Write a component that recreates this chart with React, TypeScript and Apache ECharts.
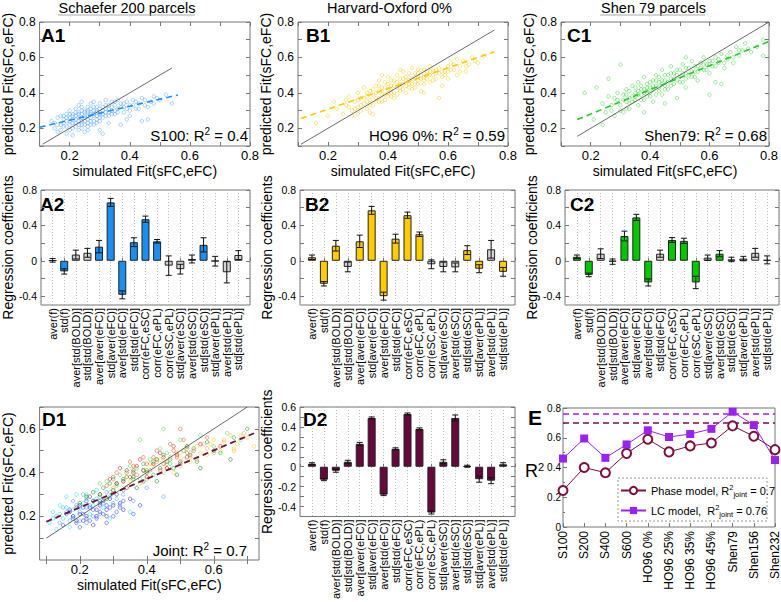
import React, { useEffect, useRef } from "react";
import * as echarts from "echarts";

const FONT = "'Liberation Sans', Arial, Helvetica, sans-serif";

// ---------- regression-coefficient panels ----------
const features = [
  "aver(f)", "std(f)", "aver[std(BOLD)]", "std[std(BOLD)]", "aver[aver(eFC)]", "std[aver(eFC)]",
  "aver[std(eFC)]", "std[std(eFC)]", "corr(eFC,eSC)", "corr(eFC,ePL)", "corr(eSC,ePL)",
  "std[aver(eSC)]", "aver[std(eSC)]", "std[std(eSC)]", "std[aver(ePL)]", "aver[std(ePL)]", "std[std(ePL)]",
];

const coefA2 = [0.005, -0.12, 0.07, 0.09, 0.16, 0.66, -0.385, 0.21, 0.47, 0.22, -0.055, -0.095, 0.02, 0.18, -0.005, -0.13, 0.065];
const errA2 = [0.02, 0.03, 0.05, 0.05, 0.07, 0.045, 0.045, 0.05, 0.035, 0.02, 0.11, 0.055, 0.045, 0.08, 0.055, 0.12, 0.05];
const sigA2 = [0, 1, 0, 0, 1, 1, 1, 1, 1, 1, 0, 0, 0, 1, 0, 0, 0];

const coefB2 = [0.04, -0.26, 0.17, -0.07, 0.22, 0.57, -0.40, 0.25, 0.515, 0.30, -0.04, -0.07, -0.075, 0.12, -0.09, 0.13, -0.125];
const errB2 = [0.025, 0.025, 0.06, 0.055, 0.07, 0.045, 0.045, 0.05, 0.035, 0.025, 0.05, 0.055, 0.05, 0.05, 0.045, 0.1, 0.05];
const sigB2 = [1, 1, 1, 0, 1, 1, 1, 1, 1, 1, 0, 0, 0, 1, 1, 0, 1];

const coefC2 = [0.045, -0.16, 0.08, -0.01, 0.28, 0.49, -0.245, 0.08, 0.235, 0.225, -0.245, 0.035, 0.08, 0.015, 0.025, 0.09, 0.01];
const errC2 = [0.02, 0.02, 0.055, 0.03, 0.055, 0.035, 0.04, 0.04, 0.027, 0.03, 0.07, 0.03, 0.035, 0.025, 0.025, 0.05, 0.045];
const sigC2 = [1, 1, 0, 0, 1, 1, 1, 0, 1, 1, 1, 0, 1, 0, 0, 0, 0];

const coefD2 = [0.03, -0.13, -0.04, 0.05, 0.23, 0.49, -0.28, 0.18, 0.53, 0.38, -0.46, 0.05, 0.49, 0.005, -0.125, -0.14, 0.025];
const errD2 = [0.01, 0.01, 0.015, 0.015, 0.015, 0.01, 0.01, 0.01, 0.01, 0.01, 0.015, 0.02, 0.03, 0.01, 0.03, 0.03, 0.015];
const sigD2 = [1, 1, 1, 1, 1, 1, 1, 1, 1, 1, 1, 1, 1, 1, 1, 1, 0];

const coefLabelsRow2 = [-0.4, 0, 0.4, 0.8];
const coefTicksRow2 = [-0.4, -0.2, 0, 0.2, 0.4, 0.6, 0.8];
const coefLabelsD2 = [-0.4, -0.2, 0, 0.2, 0.4, 0.6];
const coefTicksD2 = [-0.4, -0.3, -0.2, -0.1, 0, 0.1, 0.2, 0.3, 0.4, 0.5, 0.6];

// ---------- summary panel E ----------
const parcellations = ["S100", "S200", "S400", "S600", "HO96 0%", "HO96 25%", "HO96 35%", "HO96 45%", "Shen79", "Shen156", "Shen232"];
const r2Phase = [0.245, 0.40, 0.365, 0.495, 0.59, 0.505, 0.545, 0.565, 0.68, 0.61, 0.52];
const r2LC = [0.46, 0.595, 0.465, 0.555, 0.65, 0.605, 0.625, 0.66, 0.775, 0.685, 0.45];
const r2JointPhase = 0.7;
const r2JointLC = 0.76;

// ---------- scatter panels ----------
const fitLabels = [0.2, 0.4, 0.6, 0.8];
const fitTicks = [0.1, 0.2, 0.3, 0.4, 0.5, 0.6, 0.7, 0.8];
const fitLabelsD1 = [0.2, 0.4, 0.6];
const fitTicksD1 = [0.1, 0.2, 0.3, 0.4, 0.5, 0.6, 0.7];

const scatterA1 = [
  [0.14, 0.24], [0.15, 0.20], [0.16, 0.26], [0.16, 0.22], [0.17, 0.19], [0.17, 0.27], [0.18, 0.23], [0.18, 0.25], [0.18, 0.21],
  [0.19, 0.28], [0.19, 0.24], [0.19, 0.17], [0.20, 0.22], [0.20, 0.26], [0.20, 0.30], [0.20, 0.19], [0.21, 0.25], [0.21, 0.28],
  [0.21, 0.23], [0.21, 0.16], [0.22, 0.27], [0.22, 0.31], [0.22, 0.21], [0.22, 0.25], [0.23, 0.29], [0.23, 0.24], [0.23, 0.19],
  [0.23, 0.33], [0.24, 0.26], [0.24, 0.28], [0.24, 0.22], [0.24, 0.35], [0.25, 0.27], [0.25, 0.30], [0.25, 0.24], [0.25, 0.18],
  [0.26, 0.29], [0.26, 0.25], [0.26, 0.32], [0.26, 0.21], [0.27, 0.28], [0.27, 0.31], [0.27, 0.24], [0.27, 0.34], [0.28, 0.27],
  [0.28, 0.30], [0.28, 0.22], [0.29, 0.29], [0.29, 0.32], [0.29, 0.25], [0.30, 0.28], [0.30, 0.34], [0.30, 0.31], [0.30, 0.19],
  [0.31, 0.30], [0.31, 0.26], [0.32, 0.33], [0.32, 0.29], [0.32, 0.36], [0.33, 0.31], [0.33, 0.27], [0.34, 0.35], [0.34, 0.30],
  [0.35, 0.33], [0.35, 0.28], [0.36, 0.31], [0.36, 0.36], [0.37, 0.34], [0.37, 0.22], [0.38, 0.32], [0.38, 0.29], [0.39, 0.35],
  [0.40, 0.33], [0.40, 0.27], [0.41, 0.36], [0.42, 0.31], [0.43, 0.34], [0.44, 0.37], [0.45, 0.33], [0.46, 0.25], [0.47, 0.35],
  [0.48, 0.38], [0.50, 0.36], [0.52, 0.39], [0.54, 0.34], [0.44, 0.24], [0.31, 0.17], [0.28, 0.35], [0.33, 0.23], [0.39, 0.25],
  [0.19, 0.21], [0.20, 0.24], [0.21, 0.20], [0.21, 0.27], [0.22, 0.23], [0.22, 0.29], [0.23, 0.22], [0.23, 0.26], [0.23, 0.28],
  [0.24, 0.20], [0.24, 0.24], [0.24, 0.30], [0.25, 0.22], [0.25, 0.26], [0.25, 0.29], [0.26, 0.23], [0.26, 0.27], [0.26, 0.30],
  [0.27, 0.22], [0.27, 0.26], [0.27, 0.29], [0.28, 0.24], [0.28, 0.28], [0.28, 0.32], [0.29, 0.23], [0.29, 0.27], [0.29, 0.30],
  [0.30, 0.24], [0.30, 0.26], [0.30, 0.29], [0.31, 0.28], [0.31, 0.32], [0.32, 0.27], [0.32, 0.31], [0.33, 0.29], [0.33, 0.33],
  [0.34, 0.28], [0.34, 0.32], [0.35, 0.30], [0.35, 0.35], [0.36, 0.29], [0.37, 0.32], [0.38, 0.34], [0.39, 0.31], [0.40, 0.30],
  [0.41, 0.33], [0.42, 0.35], [0.43, 0.31], [0.45, 0.36], [0.46, 0.32], [0.48, 0.34], [0.49, 0.37], [0.17, 0.22], [0.18, 0.27],
  [0.16, 0.18], [0.15, 0.23], [0.20, 0.28], [0.19, 0.26], [0.26, 0.19], [0.24, 0.32],
];
const fitLineA1 = [[0.1, 0.206], [0.56, 0.388]];
const identityA1 = [[0.11, 0.11], [0.54, 0.54]];

const scatterB1 = [
  [0.16, 0.23], [0.20, 0.27], [0.22, 0.35], [0.23, 0.31], [0.25, 0.28], [0.26, 0.33], [0.27, 0.38], [0.28, 0.30], [0.28, 0.27],
  [0.29, 0.35], [0.30, 0.32], [0.30, 0.40], [0.30, 0.28], [0.31, 0.37], [0.31, 0.30], [0.32, 0.34], [0.32, 0.43], [0.33, 0.38],
  [0.33, 0.31], [0.34, 0.36], [0.34, 0.41], [0.34, 0.29], [0.35, 0.39], [0.35, 0.33], [0.36, 0.44], [0.36, 0.37], [0.37, 0.41],
  [0.37, 0.35], [0.37, 0.47], [0.38, 0.39], [0.38, 0.43], [0.39, 0.36], [0.39, 0.46], [0.40, 0.42], [0.40, 0.38], [0.40, 0.49],
  [0.41, 0.44], [0.41, 0.40], [0.42, 0.47], [0.42, 0.37], [0.43, 0.43], [0.43, 0.50], [0.44, 0.45], [0.44, 0.41], [0.45, 0.48],
  [0.45, 0.52], [0.46, 0.44], [0.46, 0.40], [0.47, 0.47], [0.47, 0.51], [0.48, 0.45], [0.48, 0.54], [0.49, 0.49], [0.49, 0.43],
  [0.50, 0.51], [0.50, 0.47], [0.51, 0.53], [0.51, 0.41], [0.52, 0.49], [0.52, 0.45], [0.53, 0.52], [0.54, 0.50], [0.54, 0.55],
  [0.55, 0.47], [0.55, 0.53], [0.56, 0.51], [0.57, 0.54], [0.57, 0.37], [0.58, 0.49], [0.59, 0.52], [0.60, 0.55], [0.60, 0.48],
  [0.61, 0.57], [0.62, 0.53], [0.63, 0.50], [0.63, 0.59], [0.64, 0.55], [0.65, 0.58], [0.66, 0.52], [0.67, 0.56], [0.68, 0.60],
  [0.70, 0.57], [0.72, 0.61], [0.44, 0.53], [0.38, 0.50], [0.26, 0.36], [0.52, 0.40], [0.35, 0.28], [0.58, 0.44],
  [0.33, 0.40], [0.34, 0.33], [0.35, 0.42], [0.36, 0.35], [0.36, 0.40], [0.37, 0.37], [0.37, 0.44], [0.38, 0.41], [0.38, 0.35],
  [0.39, 0.39], [0.39, 0.43], [0.40, 0.40], [0.40, 0.45], [0.41, 0.38], [0.41, 0.42], [0.41, 0.47], [0.42, 0.40], [0.42, 0.44],
  [0.43, 0.46], [0.43, 0.39], [0.44, 0.43], [0.44, 0.48], [0.45, 0.42], [0.45, 0.45], [0.46, 0.47], [0.46, 0.49], [0.47, 0.43],
  [0.47, 0.45], [0.48, 0.48], [0.48, 0.42], [0.49, 0.46], [0.49, 0.51], [0.50, 0.45], [0.50, 0.53], [0.51, 0.48], [0.51, 0.50],
  [0.52, 0.47], [0.52, 0.53], [0.53, 0.48], [0.53, 0.50], [0.54, 0.46], [0.54, 0.52], [0.55, 0.50], [0.56, 0.48], [0.56, 0.53],
  [0.57, 0.51], [0.58, 0.52], [0.59, 0.50], [0.60, 0.52], [0.61, 0.53], [0.62, 0.56], [0.32, 0.37], [0.31, 0.33], [0.29, 0.31],
  [0.33, 0.35], [0.30, 0.36], [0.27, 0.32], [0.64, 0.52], [0.66, 0.55], [0.69, 0.58],
];
const fitLineB1 = [[0.11, 0.255], [0.755, 0.632]];
const identityB1 = [[0.11, 0.11], [0.755, 0.755]];

const scatterC1 = [
  [0.18, 0.40], [0.21, 0.25], [0.22, 0.43], [0.24, 0.22], [0.24, 0.34], [0.26, 0.48], [0.27, 0.30], [0.28, 0.37], [0.28, 0.27],
  [0.29, 0.40], [0.30, 0.33], [0.30, 0.56], [0.31, 0.36], [0.31, 0.29], [0.32, 0.39], [0.32, 0.42], [0.33, 0.34], [0.33, 0.31],
  [0.34, 0.38], [0.34, 0.44], [0.35, 0.36], [0.35, 0.40], [0.36, 0.33], [0.36, 0.46], [0.37, 0.39], [0.37, 0.42], [0.38, 0.36],
  [0.38, 0.49], [0.39, 0.41], [0.39, 0.45], [0.40, 0.38], [0.40, 0.43], [0.41, 0.47], [0.41, 0.35], [0.42, 0.44], [0.42, 0.50],
  [0.43, 0.41], [0.43, 0.46], [0.44, 0.53], [0.44, 0.39], [0.45, 0.47], [0.45, 0.44], [0.46, 0.50], [0.46, 0.42], [0.47, 0.48],
  [0.47, 0.55], [0.48, 0.45], [0.48, 0.51], [0.49, 0.47], [0.49, 0.37], [0.50, 0.53], [0.50, 0.49], [0.51, 0.46], [0.51, 0.56],
  [0.52, 0.51], [0.52, 0.43], [0.53, 0.54], [0.54, 0.49], [0.54, 0.58], [0.55, 0.52], [0.56, 0.55], [0.56, 0.47], [0.57, 0.57],
  [0.58, 0.53], [0.58, 0.60], [0.59, 0.56], [0.60, 0.51], [0.60, 0.58], [0.61, 0.55], [0.62, 0.60], [0.62, 0.46], [0.63, 0.57],
  [0.64, 0.62], [0.65, 0.54], [0.66, 0.59], [0.67, 0.63], [0.68, 0.57], [0.69, 0.66], [0.70, 0.61], [0.71, 0.64], [0.72, 0.68],
  [0.74, 0.63], [0.76, 0.66], [0.78, 0.70], [0.78, 0.61], [0.60, 0.39], [0.64, 0.45], [0.38, 0.29], [0.45, 0.34], [0.52, 0.60],
  [0.31, 0.39], [0.32, 0.35], [0.33, 0.37], [0.33, 0.41], [0.34, 0.35], [0.35, 0.38], [0.35, 0.43], [0.36, 0.39], [0.36, 0.41],
  [0.37, 0.36], [0.37, 0.44], [0.38, 0.40], [0.38, 0.42], [0.39, 0.38], [0.39, 0.43], [0.40, 0.40], [0.40, 0.46], [0.41, 0.42],
  [0.41, 0.44], [0.42, 0.39], [0.42, 0.47], [0.43, 0.43], [0.43, 0.49], [0.44, 0.45], [0.44, 0.47], [0.45, 0.42], [0.45, 0.50],
  [0.46, 0.46], [0.47, 0.44], [0.47, 0.51], [0.48, 0.48], [0.49, 0.50], [0.49, 0.53], [0.50, 0.46], [0.51, 0.51], [0.52, 0.48],
  [0.52, 0.54], [0.53, 0.50], [0.54, 0.52], [0.55, 0.55], [0.55, 0.49], [0.56, 0.52], [0.57, 0.54], [0.58, 0.56], [0.59, 0.53],
  [0.60, 0.56], [0.61, 0.58], [0.62, 0.55], [0.63, 0.59], [0.65, 0.57], [0.66, 0.61], [0.68, 0.60], [0.29, 0.36], [0.27, 0.33],
  [0.26, 0.38], [0.25, 0.29], [0.30, 0.30], [0.32, 0.31], [0.70, 0.64], [0.73, 0.65],
];
const fitLineC1 = [[0.155, 0.25], [0.8, 0.69]];
const identityC1 = [[0.155, 0.155], [0.8, 0.8]];

const jointS100 = [[0.11, 0.17], [0.12, 0.22], [0.13, 0.14], [0.14, 0.25], [0.15, 0.19], [0.16, 0.29], [0.17, 0.15], [0.18, 0.23], [0.19, 0.30], [0.20, 0.18], [0.21, 0.26], [0.23, 0.21], [0.25, 0.32], [0.27, 0.24], [0.29, 0.19], [0.31, 0.28], [0.35, 0.22], [0.12, 0.19], [0.14, 0.21], [0.16, 0.24], [0.18, 0.20], [0.20, 0.24], [0.22, 0.28], [0.24, 0.25], [0.26, 0.29]];
const jointS200 = [[0.13, 0.20], [0.15, 0.24], [0.17, 0.18], [0.18, 0.27], [0.20, 0.22], [0.21, 0.30], [0.22, 0.17], [0.23, 0.25], [0.25, 0.28], [0.26, 0.21], [0.28, 0.31], [0.30, 0.26], [0.33, 0.30], [0.36, 0.27], [0.40, 0.33], [0.45, 0.29], [0.14, 0.17], [0.16, 0.22], [0.19, 0.25], [0.22, 0.24], [0.24, 0.20], [0.27, 0.26], [0.29, 0.29], [0.32, 0.25]];
const jointS400 = [[0.15, 0.16], [0.16, 0.21], [0.18, 0.19], [0.19, 0.24], [0.20, 0.15], [0.21, 0.21], [0.22, 0.27], [0.23, 0.18], [0.24, 0.23], [0.25, 0.19], [0.26, 0.26], [0.27, 0.21], [0.28, 0.17], [0.29, 0.24], [0.31, 0.22], [0.33, 0.27], [0.36, 0.21], [0.17, 0.23], [0.19, 0.17], [0.21, 0.24], [0.22, 0.19], [0.24, 0.27], [0.26, 0.22], [0.28, 0.25], [0.30, 0.20], [0.32, 0.24]];
const jointS600 = [[0.17, 0.22], [0.19, 0.18], [0.20, 0.25], [0.22, 0.20], [0.23, 0.29], [0.24, 0.16], [0.25, 0.23], [0.27, 0.27], [0.28, 0.20], [0.30, 0.25], [0.31, 0.30], [0.33, 0.23], [0.35, 0.28], [0.38, 0.25], [0.18, 0.20], [0.20, 0.21], [0.21, 0.18], [0.23, 0.24], [0.25, 0.20], [0.26, 0.25], [0.28, 0.23], [0.29, 0.28], [0.32, 0.26]];
const jointHO0 = [[0.35, 0.36], [0.40, 0.41], [0.44, 0.46], [0.48, 0.40], [0.50, 0.49], [0.53, 0.45], [0.55, 0.52], [0.58, 0.48], [0.60, 0.55], [0.62, 0.50], [0.65, 0.57], [0.67, 0.53], [0.70, 0.56], [0.72, 0.52], [0.42, 0.43], [0.46, 0.42], [0.51, 0.46], [0.56, 0.49], [0.59, 0.53], [0.63, 0.54], [0.66, 0.51], [0.68, 0.57]];
const jointHO25 = [[0.30, 0.33], [0.34, 0.38], [0.38, 0.35], [0.41, 0.44], [0.45, 0.40], [0.47, 0.47], [0.50, 0.43], [0.52, 0.51], [0.55, 0.46], [0.57, 0.53], [0.60, 0.49], [0.63, 0.55], [0.66, 0.50], [0.69, 0.58], [0.36, 0.40], [0.40, 0.37], [0.43, 0.45], [0.46, 0.44], [0.49, 0.49], [0.53, 0.47], [0.58, 0.51], [0.62, 0.52]];
const jointHO35 = [[0.28, 0.34], [0.31, 0.40], [0.33, 0.36], [0.35, 0.45], [0.37, 0.39], [0.39, 0.47], [0.41, 0.41], [0.43, 0.50], [0.45, 0.44], [0.47, 0.53], [0.49, 0.47], [0.51, 0.55], [0.54, 0.50], [0.58, 0.56], [0.62, 0.52], [0.30, 0.37], [0.34, 0.40], [0.36, 0.43], [0.40, 0.44], [0.42, 0.47], [0.44, 0.41], [0.48, 0.50], [0.52, 0.49], [0.50, 0.60]];
const jointHO45 = [[0.26, 0.30], [0.29, 0.37], [0.32, 0.42], [0.34, 0.33], [0.36, 0.41], [0.38, 0.46], [0.40, 0.38], [0.42, 0.44], [0.44, 0.49], [0.46, 0.42], [0.48, 0.52], [0.50, 0.45], [0.53, 0.48], [0.56, 0.53], [0.31, 0.35], [0.35, 0.38], [0.37, 0.43], [0.39, 0.41], [0.43, 0.46], [0.45, 0.47], [0.49, 0.48], [0.52, 0.52]];
const jointShen79 = [[0.22, 0.30], [0.26, 0.35], [0.29, 0.31], [0.32, 0.39], [0.35, 0.43], [0.38, 0.37], [0.41, 0.46], [0.44, 0.51], [0.47, 0.44], [0.50, 0.55], [0.53, 0.49], [0.56, 0.57], [0.60, 0.52], [0.64, 0.58], [0.68, 0.55], [0.28, 0.36], [0.31, 0.34], [0.34, 0.38], [0.37, 0.42], [0.40, 0.41], [0.43, 0.46], [0.46, 0.49], [0.52, 0.52], [0.45, 0.60], [0.38, 0.55]];
const jointShen156 = [[0.24, 0.27], [0.27, 0.33], [0.30, 0.38], [0.33, 0.32], [0.36, 0.40], [0.39, 0.44], [0.42, 0.39], [0.45, 0.48], [0.48, 0.42], [0.51, 0.50], [0.55, 0.45], [0.58, 0.54], [0.62, 0.49], [0.66, 0.56], [0.70, 0.60], [0.26, 0.30], [0.29, 0.35], [0.33, 0.36], [0.36, 0.37], [0.39, 0.41], [0.42, 0.45], [0.47, 0.46], [0.54, 0.51]];
const jointShen232 = [[0.20, 0.26], [0.24, 0.31], [0.28, 0.28], [0.31, 0.35], [0.34, 0.41], [0.37, 0.33], [0.40, 0.40], [0.43, 0.36], [0.46, 0.45], [0.49, 0.39], [0.52, 0.47], [0.56, 0.42], [0.60, 0.50], [0.65, 0.46], [0.22, 0.29], [0.26, 0.27], [0.30, 0.32], [0.33, 0.37], [0.36, 0.38], [0.39, 0.36], [0.44, 0.42], [0.50, 0.44]];
const fitLineD1 = [[0.1, 0.175], [0.72, 0.58]];
const identityD1 = [[0.1, 0.1], [0.7, 0.7]];

const jointGroups = [
  { name: "S100", data: jointS100, color: "rgba(0,220,240,0.75)" },
  { name: "S200", data: jointS200, color: "rgba(40,140,255,0.75)" },
  { name: "S400", data: jointS400, color: "rgba(0,40,255,0.75)" },
  { name: "S600", data: jointS600, color: "rgba(0,0,170,0.75)" },
  { name: "HO96 0%", data: jointHO0, color: "rgba(255,200,0,0.8)" },
  { name: "HO96 25%", data: jointHO25, color: "rgba(255,150,40,0.8)" },
  { name: "HO96 35%", data: jointHO35, color: "rgba(255,60,0,0.8)" },
  { name: "HO96 45%", data: jointHO45, color: "rgba(200,0,0,0.8)" },
  { name: "Shen79", data: jointShen79, color: "rgba(60,220,60,0.8)" },
  { name: "Shen156", data: jointShen156, color: "rgba(0,150,0,0.8)" },
  { name: "Shen232", data: jointShen232, color: "rgba(0,95,0,0.8)" },
];

const GRIDS = [
  { left: 37, top: 22, width: 213, height: 124 },  // A1
  { left: 298, top: 22, width: 210, height: 124 }, // B1
  { left: 561, top: 22, width: 218, height: 124 }, // C1
  { left: 35, top: 190, width: 215, height: 115 }, // A2
  { left: 300, top: 190, width: 215, height: 115 }, // B2
  { left: 565, top: 190, width: 214, height: 115 }, // C2
  { left: 37, top: 407, width: 222, height: 153 }, // D1
  { left: 300, top: 407, width: 215, height: 114 }, // D2
  { left: 563, top: 408, width: 215, height: 119 }, // E
];

const FRAME = "#777";

function buildOption() {
  const xAxis: any[] = [];
  const yAxis: any[] = [];
  const mirrorX: any[] = [];
  const mirrorY: any[] = [];
  const series: any[] = [];

  const mirror = (gi: number, dim: "x" | "y", r: number[], ticks: number[]) => {
    const ax = {
      gridIndex: gi, type: "value", min: r[0], max: r[1],
      position: dim === "x" ? "top" : "right",
      axisLine: { show: false },
      axisTick: { show: true, inside: true, length: 4, customValues: ticks, lineStyle: { color: FRAME } },
      axisLabel: { show: false },
      splitLine: { show: false },
    };
    if (dim === "x") mirrorX.push(ax); else mirrorY.push(ax);
  };

  const scatterPanel = (gi: number, xr: number[], yr: number[], xl: number[], xt: number[], yl: number[], yt: number[], yGap: number) => {
    xAxis.push({
      gridIndex: gi, type: "value", min: xr[0], max: xr[1],
      axisLine: { show: false },
      axisTick: { show: true, inside: true, length: 4, customValues: xt, lineStyle: { color: FRAME } },
      axisLabel: { customValues: xl, fontSize: 13, color: "#000", margin: 3, fontFamily: FONT },
      splitLine: { show: false },
      name: "simulated Fit(sFC,eFC)", nameLocation: "middle", nameGap: 18,
      nameTextStyle: { fontSize: 14, color: "#000", fontFamily: FONT },
    });
    yAxis.push({
      gridIndex: gi, type: "value", min: yr[0], max: yr[1],
      axisLine: { show: false },
      axisTick: { show: true, inside: true, length: 4, customValues: yt, lineStyle: { color: FRAME } },
      axisLabel: { customValues: yl, fontSize: 12, color: "#000", margin: 4, fontFamily: FONT },
      splitLine: { show: false },
      name: "predicted Fit(sFC,eFC)", nameLocation: "middle", nameGap: yGap,
      nameTextStyle: { fontSize: 14, color: "#000", fontFamily: FONT },
    });
    mirror(gi, "x", xr, xt);
    mirror(gi, "y", yr, yt);
  };

  const addScatter = (gi: number, name: string, data: number[][], color: string, size = 3.5) => {
    series.push({
      type: "scatter", name, xAxisIndex: gi, yAxisIndex: gi, data, symbol: "circle", symbolSize: size,
      itemStyle: { color: "rgba(0,0,0,0)", borderColor: color, borderWidth: 0.8 }, silent: true,
    });
  };
  const addLine = (gi: number, data: number[][], color: string, width: number, dashed: boolean) => {
    series.push({
      type: "line", xAxisIndex: gi, yAxisIndex: gi, data, showSymbol: false, symbol: "none", silent: true, z: 4,
      lineStyle: { color, width, type: dashed ? [6, 4] : "solid" },
    });
  };

  // Row 1
  scatterPanel(0, [0.1, 0.8], [0.1, 0.8], fitLabels, fitTicks, fitLabels, fitTicks, 24);
  addScatter(0, "A1", scatterA1, "rgba(40,140,255,0.6)");
  addLine(0, identityA1, "#444", 0.8, false);
  addLine(0, fitLineA1, "#1e8fff", 1.6, true);

  scatterPanel(1, [0.1, 0.8], [0.1, 0.8], fitLabels, fitTicks, fitLabels, fitTicks, 24);
  addScatter(1, "B1", scatterB1, "rgba(245,195,0,0.7)");
  addLine(1, identityB1, "#444", 0.8, false);
  addLine(1, fitLineB1, "#ffc800", 1.6, true);

  scatterPanel(2, [0.1, 0.8], [0.1, 0.8], fitLabels, fitTicks, fitLabels, fitTicks, 24);
  addScatter(2, "C1", scatterC1, "rgba(40,200,40,0.7)");
  addLine(2, identityC1, "#444", 0.8, false);
  addLine(2, fitLineC1, "#22cc22", 1.6, true);

  // Bar panels
  const barPanel = (gi: number, coef: number[], err: number[], sig: number[], color: string, yr: number[], yl: number[], yt: number[]) => {
    xAxis.push({
      gridIndex: gi, type: "value", min: 0, max: 18, interval: 1,
      axisLine: { show: false },
      axisTick: { show: true, inside: true, length: 3, lineStyle: { color: FRAME } },
      splitLine: { show: true, lineStyle: { color: "#aaa", type: [1, 2], width: 0.8 } },
      axisLabel: {
        rotate: 90, fontSize: 11, color: "#000", margin: 3, fontFamily: FONT,
        formatter: (v: number) => features[Math.round(v) - 1] ?? "",
      },
    });
    yAxis.push({
      gridIndex: gi, type: "value", min: yr[0], max: yr[1],
      axisLine: { show: false },
      axisTick: { show: true, inside: true, length: 4, customValues: yt, lineStyle: { color: FRAME } },
      axisLabel: { customValues: yl, fontSize: 10.5, color: "#000", margin: 4, fontFamily: FONT },
      splitLine: { show: false },
      name: "Regression coefficients", nameLocation: "middle", nameGap: 22,
      nameTextStyle: { fontSize: 14, color: "#000", fontFamily: FONT },
    });
    mirror(gi, "y", yr, yt);
    series.push({
      type: "bar", xAxisIndex: gi, yAxisIndex: gi, barWidth: 8, silent: true,
      data: coef.map((v, i) => ({ value: [i + 1, v], itemStyle: { color: sig[i] ? color : "#d4d4d4" } })),
      itemStyle: { borderColor: "#222", borderWidth: 1 },
    });
    series.push({
      type: "custom", xAxisIndex: gi, yAxisIndex: gi, silent: true, z: 5,
      data: coef.map((v, i) => [i + 1, v - err[i], v + err[i]]),
      encode: { x: 0, y: [1, 2] },
      renderItem: (params: any, api: any) => {
        const x = api.value(0);
        const p1 = api.coord([x, api.value(1)]);
        const p2 = api.coord([x, api.value(2)]);
        const w = 3;
        const st = { stroke: "#111", lineWidth: 1 };
        return {
          type: "group",
          children: [
            { type: "line", shape: { x1: p1[0], y1: p1[1], x2: p2[0], y2: p2[1] }, style: st },
            { type: "line", shape: { x1: p1[0] - w, y1: p1[1], x2: p1[0] + w, y2: p1[1] }, style: st },
            { type: "line", shape: { x1: p2[0] - w, y1: p2[1], x2: p2[0] + w, y2: p2[1] }, style: st },
          ],
        };
      },
    });
  };

  barPanel(3, coefA2, errA2, sigA2, "#1a8ff0", [-0.5, 0.8], coefLabelsRow2, coefTicksRow2);
  barPanel(4, coefB2, errB2, sigB2, "#ffcc00", [-0.5, 0.8], coefLabelsRow2, coefTicksRow2);
  barPanel(5, coefC2, errC2, sigC2, "#00c800", [-0.5, 0.8], coefLabelsRow2, coefTicksRow2);

  // D1 joint scatter
  scatterPanel(6, [0.08, 0.735], [0.0, 0.7], fitLabelsD1, fitTicksD1, fitLabelsD1, fitTicksD1, 24);
  jointGroups.forEach((g) => addScatter(6, g.name + " joint", g.data, g.color));
  addLine(6, identityD1, "#444", 0.8, false);
  addLine(6, fitLineD1, "#6e0f3c", 1.8, true);

  // D2
  barPanel(7, coefD2, errD2, sigD2, "#66093a", [-0.5, 0.6], coefLabelsD2, coefTicksD2);

  // E
  xAxis.push({
    gridIndex: 8, type: "category", data: parcellations, boundaryGap: false,
    axisLine: { show: false },
    axisTick: { show: true, inside: true, length: 4, lineStyle: { color: FRAME } },
    axisLabel: { rotate: 90, fontSize: 12, color: "#000", margin: 4, interval: 0, fontFamily: FONT },
    splitLine: { show: false },
  });
  yAxis.push({
    gridIndex: 8, type: "value", min: 0, max: 0.8, interval: 0.2,
    axisLine: { show: false },
    axisTick: { show: true, inside: true, length: 4, lineStyle: { color: FRAME } },
    minorTick: { show: true, splitNumber: 2, length: 2, lineStyle: { color: FRAME } },
    axisLabel: { fontSize: 10, color: "#000", margin: 2, fontFamily: FONT },
    splitLine: { show: false },
  });
  series.push({
    type: "line", name: "Phase model", xAxisIndex: 8, yAxisIndex: 8, data: r2Phase,
    symbol: "emptyCircle", symbolSize: 9, z: 5,
    itemStyle: { color: "#7b1040", borderWidth: 1.2 },
    lineStyle: { color: "#7b1040", width: 1 },
    markLine: {
      silent: true, symbol: "none", label: { show: false },
      lineStyle: { color: "#7b1040", type: [6, 4], width: 1.5 },
      data: [{ yAxis: r2JointPhase }],
    },
  });
  series.push({
    type: "line", name: "LC model", xAxisIndex: 8, yAxisIndex: 8, data: r2LC,
    symbol: "rect", symbolSize: 8, z: 5,
    itemStyle: { color: "#9a22ee" },
    lineStyle: { color: "#9a22ee", width: 1 },
    markLine: {
      silent: true, symbol: "none", label: { show: false },
      lineStyle: { color: "#9a22ee", type: [6, 4], width: 1.5 },
      data: [{ yAxis: r2JointLC }],
    },
  });

  const txt = (x: number, y: number, text: string, extra: any = {}) => ({
    type: "text", x, y, silent: true,
    style: { text, fontFamily: FONT, fill: "#000", fontSize: 14, ...extra },
  });
  const label = (x: number, y: number, text: string, size = 19) =>
    txt(x, y, text, { fontSize: size, fontWeight: "bold", verticalAlign: "top" });
  const richR2 = { t: { fontSize: 15, fontFamily: FONT, fill: "#000", lineHeight: 19 }, s: { fontSize: 10, fontFamily: FONT, fill: "#000", verticalAlign: "top", lineHeight: 11 } };
  const r2Text = (x: number, y: number, prefix: string, val: number) =>
    txt(x, y, `{t|${prefix}: R}{s|2}{t| = ${val}}`, { align: "right", verticalAlign: "bottom", rich: richR2 });

  const graphic: any[] = [
    txt(127, 0, "Schaefer 200 parcels", { fontSize: 14.5, align: "center", verticalAlign: "top" }),
    { type: "line", silent: true, shape: { x1: 58, y1: 15, x2: 195, y2: 15 }, style: { stroke: "#aaa", lineWidth: 1 } },
    txt(389.5, 0, "Harvard-Oxford 0%", { fontSize: 14.5, align: "center", verticalAlign: "top" }),
    txt(653.5, 0, "Shen 79 parcels", { fontSize: 14.5, align: "center", verticalAlign: "top" }),
    { type: "line", silent: true, shape: { x1: 600, y1: 15, x2: 705, y2: 15 }, style: { stroke: "#aaa", lineWidth: 1 } },
    label(41, 26, "A1"), label(306, 26, "B1"), label(567, 26, "C1"),
    label(40, 195, "A2"), label(305, 195, "B2"), label(570, 195, "C2"),
    label(42, 410, "D1"), label(303, 410, "D2"), label(528, 407, "E", 21),
    r2Text(248, 145, "S100", 0.4),
    r2Text(505, 145, "HO96 0%", 0.59),
    r2Text(767, 145, "Shen79", 0.68),
    r2Text(247, 560, "Joint", r2JointPhase),
    txt(525, 471, "{t|R}{s|2}", {
      verticalAlign: "middle",
      rich: { t: { fontSize: 18, fontFamily: FONT, fill: "#000", lineHeight: 20 }, s: { fontSize: 11, fontFamily: FONT, fill: "#000", verticalAlign: "top", lineHeight: 11 } },
    }),
    { type: "rect", silent: true, z: 1, shape: { x: 618, y: 478, width: 149, height: 43 }, style: { fill: "none", stroke: "#999", lineWidth: 1, lineDash: [2, 2] } },
  ];

  const legendRich = {
    t: { fontSize: 11, fontFamily: FONT, color: "#000", lineHeight: 15 },
    sup: { fontSize: 7.5, fontFamily: FONT, color: "#000", verticalAlign: "top", lineHeight: 8 },
    sub: { fontSize: 7.5, fontFamily: FONT, color: "#000", verticalAlign: "bottom", lineHeight: 8 },
  };

  return {
    animation: false,
    backgroundColor: "#fff",
    textStyle: { fontFamily: FONT },
    grid: GRIDS.map((g) => ({ ...g, show: true, borderColor: FRAME, borderWidth: 1, backgroundColor: "transparent", containLabel: false })),
    xAxis: [...xAxis, ...mirrorX],
    yAxis: [...yAxis, ...mirrorY],
    series,
    legend: {
      data: ["Phase model", "LC model"], orient: "vertical", left: 620, top: 483, padding: 0,
      itemWidth: 25, itemHeight: 9, itemGap: 5,
      formatter: (name: string) =>
        name === "Phase model"
          ? `{t|Phase model, R}{sup|2}{sub|joint}{t| = ${r2JointPhase}}`
          : `{t|LC model,  R}{sup|2}{sub|joint}{t| = ${r2JointLC}}`,
      textStyle: { fontSize: 11, fontFamily: FONT, color: "#000", rich: legendRich },
    },
    graphic,
  };
}

export default function App() {
  const ref = useRef<HTMLDivElement>(null);
  useEffect(() => {
    if (!ref.current) return;
    const chart = echarts.init(ref.current, undefined, { renderer: "svg" });
    chart.setOption(buildOption() as any);
    return () => chart.dispose();
  }, []);
  return (
    <div
      ref={ref}
      style={{ position: "absolute", left: 0, top: 0, width: 781, height: 602, background: "#fff" }}
    />
  );
}
